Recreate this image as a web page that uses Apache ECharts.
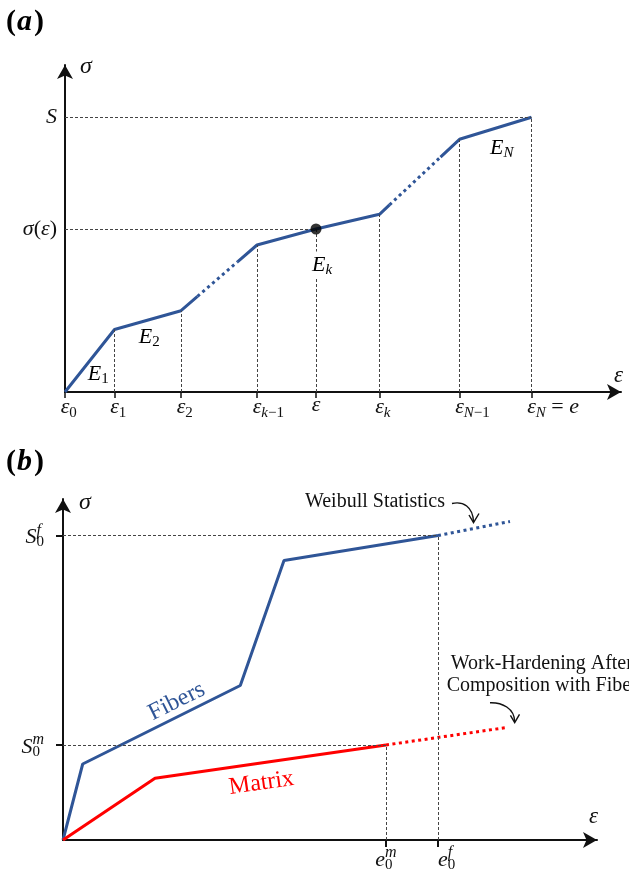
<!DOCTYPE html>
<html>
<head>
<meta charset="utf-8">
<script src="https://cdn.jsdelivr.net/npm/echarts@6/dist/echarts.min.js"></script>
<style>
  html, body { margin: 0; padding: 0; background: #ffffff; }
  #chart { width: 629px; height: 875px; }
</style>
</head>
<body>
<div id="chart"></div>
<script>
// ---------- Panel (a): piecewise-linear stress–strain law ----------
const strainA = [0, 4.95, 11.6, 19.2, 25.1, 31.45, 39.45, 46.65];
const stressA = [0, 6.25, 8.13, 14.7, 16.3, 17.77, 25.27, 27.47];
// tick label pieces for each strain knot: [style, text]
const strainLabelsA = [
  [['m', 'ε'], ['sn', '0']],
  [['m', 'ε'], ['sn', '1']],
  [['m', 'ε'], ['sn', '2']],
  [['m', 'ε'], ['si', 'k'], ['sn', '−1']],
  [['m', 'ε']],
  [['m', 'ε'], ['si', 'k']],
  [['m', 'ε'], ['si', 'N'], ['sn', '−1']],
  [['m', 'ε'], ['si', 'N'], ['mu', ' = '], ['m', 'e']]
];
const queryIndexA = 4;          // the evaluated point ε on segment k
// stretches of the curve drawn dotted (omitted intermediate segments)
const dottedA = [
  [[13.25, 9.56], [17.25, 13.01]],
  [[32.45, 18.71], [37.55, 23.49]]
];

// ---------- Panel (b): fibers and matrix ----------
const fiberStrain = [0, 1.97, 17.73, 22.1, 37.5];
const fiberStress = [0, 7.6, 15.45, 27.95, 30.45];
const fiberExtension = [44.7, 31.85];   // dotted continuation (Weibull statistics)
const matrixStrain = [0, 9.2, 32.3];
const matrixStress = [0, 6.17, 9.5];
const matrixExtension = [44.5, 11.27];  // dotted continuation (work-hardening)

const SERIF = '"Liberation Serif", "DejaVu Serif", serif';
const BLUE = '#2f5597', RED = '#ff0000', INK = '#111111', GUIDE = '#444444';
const X_MAX_A = 55.6, Y_MAX_A = 32.7, X_MAX_B = 53.4, Y_MAX_B = 34.1;

const chart = echarts.init(document.getElementById('chart'), null, { renderer: 'canvas' });

const ctx = document.createElement('canvas').getContext('2d');
function measure(text, s) {
  ctx.font = (s.fontStyle || 'normal') + ' ' + (s.fontWeight || 'normal') + ' ' + s.fontSize + 'px ' + SERIF;
  return ctx.measureText(text).width;
}

// rich styles shared by the math labels
const richA = {
  m:  { fontFamily: SERIF, fontSize: 22, fontStyle: 'italic', color: INK, align: 'left' },
  mu: { fontFamily: SERIF, fontSize: 22, color: INK, align: 'left' },
  si: { fontFamily: SERIF, fontSize: 15, fontStyle: 'italic', color: INK, padding: [12, 0, 0, 0], align: 'left' },
  sn: { fontFamily: SERIF, fontSize: 15, color: INK, padding: [12, 0, 0, 0], align: 'left' }
};
// each strain label is centred on its base symbol: a spacer balances the trailing scripts
strainLabelsA.forEach((parts, i) => {
  let trail = 0;
  parts.slice(1).forEach(([st, tx]) => { trail += measure(tx, richA[st]); });
  richA['sp' + i] = { width: trail, fontSize: 10, align: 'left' };
});
function strainLabelA(v) {
  const i = strainA.findIndex(a => Math.abs(a - v) < 1e-6);
  if (i < 0) return ' ';            // blank slot at the arrow end
  let s = '{sp' + i + '| }';
  strainLabelsA[i].forEach(([st, tx]) => { s += '{' + st + '|' + tx + '}'; });
  return s;
}

const richB = {
  b:    { fontFamily: SERIF, fontSize: 22, fontStyle: 'italic', color: INK, align: 'left' },
  sup:  { fontFamily: SERIF, fontSize: 16, fontStyle: 'italic', color: INK, padding: [0, 0, 14, 0], align: 'left' },
  supz: { fontFamily: SERIF, fontSize: 16, fontStyle: 'italic', color: INK, padding: [0, 0, 14, 0], width: 0, align: 'left' },
  sub:  { fontFamily: SERIF, fontSize: 15, color: INK, padding: [10, 0, 0, 0], align: 'left' },
  subz: { fontFamily: SERIF, fontSize: 15, color: INK, padding: [10, 0, 0, 0], width: 0, align: 'left' }
};
richB.spf = { width: measure('e', richB.b) + measure('0', richB.sub), fontSize: 10, align: 'left' };

const knotsA = strainA.map((x, i) => [x, stressA[i]]);
const solidA = [
  knotsA.slice(0, 3).concat([dottedA[0][0]]),
  [dottedA[0][1]].concat(knotsA.slice(3, 6), [dottedA[1][0]]),
  [dottedA[1][1]].concat(knotsA.slice(6))
];
const lastA = knotsA.length - 1;
const guidesA = [
  [{ coord: [0, stressA[lastA]] }, { coord: knotsA[lastA] }],
  [{ coord: [0, stressA[queryIndexA]] }, { coord: knotsA[queryIndexA] }]
];
for (let i = 1; i < knotsA.length; i++) guidesA.push([{ coord: [strainA[i], 0] }, { coord: knotsA[i] }]);

const fiberPts = fiberStrain.map((x, i) => [x, fiberStress[i]]);
const matrixPts = matrixStrain.map((x, i) => [x, matrixStress[i]]);
const fiberFail = fiberPts[fiberPts.length - 1];
const matrixFail = matrixPts[matrixPts.length - 1];
const guidesB = [
  [{ coord: [0, fiberFail[1]] }, { coord: fiberFail }],
  [{ coord: [fiberFail[0], 0] }, { coord: fiberFail }],
  [{ coord: [0, matrixFail[1]] }, { coord: matrixFail }],
  [{ coord: [matrixFail[0], 0] }, { coord: matrixFail }]
];

const axisLine = {
  show: true,
  symbol: ['none', 'arrow'],
  symbolSize: [12, 14],
  lineStyle: { color: INK, width: 2 }
};
const guideStyle = { color: GUIDE, width: 1, type: [3, 2] };
function guideSeries(xi, yi, data) {
  return {
    type: 'line', xAxisIndex: xi, yAxisIndex: yi, data: [], z: 1, silent: true,
    markLine: {
      silent: true, symbol: ['none', 'none'], animation: false,
      label: { show: false }, emphasis: { disabled: true },
      lineStyle: guideStyle, data: data
    }
  };
}
function curve(xi, yi, data, color, dotted) {
  return {
    type: 'line', xAxisIndex: xi, yAxisIndex: yi, data: data, z: 3,
    symbol: 'none', silent: true, animation: false,
    lineStyle: { color: color, width: 3, type: dotted ? [3, 3.5] : 'solid', cap: 'butt' }
  };
}

const option = {
  backgroundColor: '#ffffff',
  animation: false,
  grid: [
    { left: 65, top: 65, width: 556, height: 327, outerBoundsMode: 'none', containLabel: false },
    { left: 63, top: 499, width: 534, height: 341, outerBoundsMode: 'none', containLabel: false }
  ],
  xAxis: [
    {
      type: 'value', gridIndex: 0, min: 0, max: X_MAX_A,
      axisLine: axisLine,
      axisTick: { show: true, customValues: strainA, length: 6, lineStyle: { color: INK, width: 1.5 } },
      axisLabel: {
        show: true, customValues: strainA.concat([X_MAX_A]), margin: 2, align: 'center', verticalAlign: 'top',
        hideOverlap: false,
        formatter: v => strainLabelA(v), rich: richA
      },
      splitLine: { show: false }
    },
    {
      type: 'value', gridIndex: 1, min: 0, max: X_MAX_B,
      axisLine: axisLine,
      axisTick: { show: true, customValues: [matrixFail[0], fiberFail[0]], length: 7, lineStyle: { color: INK, width: 2 } },
      axisLabel: {
        show: true, customValues: [matrixFail[0], fiberFail[0]], margin: 5, align: 'center', verticalAlign: 'top',
        hideOverlap: false,
        formatter: v => Math.abs(v - matrixFail[0]) < 1e-9
          ? '{b|e}{subz|0}{sup|m}'
          : '{spf| }{b|e}{supz|f}{sub|0}',
        rich: richB
      },
      splitLine: { show: false }
    }
  ],
  yAxis: [
    {
      type: 'value', gridIndex: 0, min: 0, max: Y_MAX_A,
      axisLine: axisLine,
      axisTick: { show: false },
      axisLabel: {
        show: true, customValues: [stressA[queryIndexA], stressA[lastA]], margin: 8,
        hideOverlap: false,
        formatter: v => Math.abs(v - stressA[lastA]) < 1e-9 ? '{m|S}' : '{m|σ}{mu|(}{m|ε}{mu|)}',
        rich: richA
      },
      splitLine: { show: false },
      name: 'σ', nameLocation: 'end', nameGap: -2,
      nameTextStyle: { fontFamily: SERIF, fontSize: 24, fontStyle: 'italic', color: INK,
        align: 'left', verticalAlign: 'middle', padding: [0, 0, 0, 15] }
    },
    {
      type: 'value', gridIndex: 1, min: 0, max: Y_MAX_B,
      axisLine: axisLine,
      axisTick: { show: true, customValues: [matrixFail[1], fiberFail[1]], length: 7, lineStyle: { color: INK, width: 2 } },
      axisLabel: {
        show: true, customValues: [matrixFail[1], fiberFail[1]], margin: 19, padding: [4, 0, 0, 0],
        hideOverlap: false,
        formatter: v => Math.abs(v - fiberFail[1]) < 1e-9
          ? '{b|S}{supz|f}{sub|0}'
          : '{b|S}{subz|0}{sup|m}',
        rich: richB
      },
      splitLine: { show: false },
      name: 'σ', nameLocation: 'end', nameGap: -3.5,
      nameTextStyle: { fontFamily: SERIF, fontSize: 24, fontStyle: 'italic', color: INK,
        align: 'left', verticalAlign: 'middle', padding: [0, 0, 0, 16] }
    }
  ],
  series: [
    guideSeries(0, 0, guidesA),
    curve(0, 0, solidA[0], BLUE, false),
    curve(0, 0, solidA[1], BLUE, false),
    curve(0, 0, solidA[2], BLUE, false),
    curve(0, 0, dottedA[0], BLUE, true),
    curve(0, 0, dottedA[1], BLUE, true),
    {
      type: 'scatter', xAxisIndex: 0, yAxisIndex: 0, data: [knotsA[queryIndexA]],
      symbolSize: 11, itemStyle: { color: '#000000' }, z: 5, silent: true
    },
    guideSeries(1, 1, guidesB),
    curve(1, 1, fiberPts, BLUE, false),
    curve(1, 1, [fiberFail, fiberExtension], BLUE, true),
    curve(1, 1, matrixPts, RED, false),
    curve(1, 1, [matrixFail, matrixExtension], RED, true)
  ]
};
chart.setOption(option);

// ---------- annotations placed relative to the plotted geometry ----------
const px = (g, p) => chart.convertToPixel({ gridIndex: g }, p);
const mid = (p, q) => [(p[0] + q[0]) / 2, (p[1] + q[1]) / 2];

const eRich = {
  E: { fontFamily: SERIF, fontSize: 22, fontStyle: 'italic', color: INK },
  s: { fontFamily: SERIF, fontSize: 15, color: INK, padding: [10, 0, 0, 0] },
  si: { fontFamily: SERIF, fontSize: 15, fontStyle: 'italic', color: INK, padding: [10, 0, 0, 0] }
};
function modulusLabel(pos, dx, dy, text, bg) {
  return {
    type: 'text', x: pos[0] + dx, y: pos[1] + dy, z: 10, silent: true,
    style: {
      text: text, rich: eRich, align: 'left', verticalAlign: 'middle',
      backgroundColor: bg ? '#ffffff' : null, padding: bg ? [1, 1, 1, 1] : 0
    }
  };
}

function panelTag(y, letter) {
  return {
    type: 'text', x: 6, y: y, silent: true,
    style: {
      text: '{p|(}{a|' + letter + '}{p|)}', align: 'left', verticalAlign: 'middle',
      rich: {
        p: { fontFamily: SERIF, fontSize: 30, fontWeight: 'bold', color: INK },
        a: { fontFamily: SERIF, fontSize: 30, fontWeight: 'bold', fontStyle: 'italic', color: INK, padding: [0, 2, 0, 1] }
      }
    }
  };
}

// axis title drawn just above/right of an arrow tip
function axisTitle(pos, dx, dy, text) {
  return {
    type: 'text', x: pos[0] + dx, y: pos[1] + dy, silent: true, z: 10,
    style: { text: text, fontFamily: SERIF, fontSize: 23, fontStyle: 'italic', fill: INK,
             align: 'center', verticalAlign: 'middle' }
  };
}

function alongLabel(p, q, along, normal, text, color) {
  const a = px(1, p), b = px(1, q);
  const dx = b[0] - a[0], dy = b[1] - a[1];
  const len = Math.hypot(dx, dy);
  const u = [dx / len, dy / len];
  const n = [u[1], -u[0]];
  const m = [(a[0] + b[0]) / 2, (a[1] + b[1]) / 2];
  return {
    type: 'text', silent: true, z: 10,
    x: m[0] + along * u[0] + normal * n[0],
    y: m[1] + along * u[1] + normal * n[1],
    rotation: Math.atan2(-dy, dx),
    style: { text: text, fontFamily: SERIF, fontSize: 24, fill: color, align: 'center', verticalAlign: 'middle' }
  };
}

function curvedArrow(o, s, c1, c2, e, wingL, tip, wingR) {
  return [
    {
      type: 'bezierCurve', silent: true, z: 10,
      shape: { x1: o[0] + s[0], y1: o[1] + s[1], cpx1: o[0] + c1[0], cpy1: o[1] + c1[1],
               cpx2: o[0] + c2[0], cpy2: o[1] + c2[1], x2: o[0] + e[0], y2: o[1] + e[1] },
      style: { stroke: INK, lineWidth: 1.4, fill: null }
    },
    {
      type: 'polyline', silent: true, z: 10,
      shape: { points: [wingL, tip, wingR].map(p => [o[0] + p[0], o[1] + p[1]]) },
      style: { stroke: INK, lineWidth: 1.4, fill: null }
    }
  ];
}

const W = px(1, fiberExtension);
const M = px(1, matrixExtension);
const noteStyle = { fontFamily: SERIF, fontSize: 20, fill: INK, verticalAlign: 'middle' };

const graphics = [
  panelTag(22, 'a'),
  panelTag(462, 'b'),
  axisTitle(px(0, [X_MAX_A, 0]), -2.5, -16.5, 'ε'),
  axisTitle(px(1, [X_MAX_B, 0]), -3.5, -23.5, 'ε'),
  modulusLabel(px(0, mid(knotsA[0], knotsA[1])), -2, 13, '{E|E}{s|1}', false),
  modulusLabel(px(0, mid(knotsA[1], knotsA[2])), -9, 17, '{E|E}{s|2}', false),
  modulusLabel(px(0, knotsA[queryIndexA]), -5, 36, '{E|E}{si|k}', true),
  modulusLabel(px(0, mid(knotsA[6], knotsA[7])), -5.5, 20, '{E|E}{si|N}', false),
  alongLabel(fiberPts[1], fiberPts[2], 24, 14, 'Fibers', BLUE),
  alongLabel(matrixPts[1], matrixPts[2], -12, -20, 'Matrix', RED),
  { type: 'text', silent: true, z: 10, x: W[0] - 65, y: W[1] - 19.5,
    style: Object.assign({ text: 'Weibull Statistics', align: 'right' }, noteStyle) },
  { type: 'text', silent: true, z: 10, x: M[0] - 57.3, y: M[1] - 64,
    style: Object.assign({ text: 'Work-Hardening After', align: 'left' }, noteStyle) },
  { type: 'text', silent: true, z: 10, x: M[0] - 61.3, y: M[1] - 41.3,
    style: Object.assign({ text: 'Composition with Fibers', align: 'left' }, noteStyle) }
]
  .concat(curvedArrow(W, [-58, -18], [-47, -20.5], [-37, -15], [-36.5, 0.5],
                      [-41, -6.5], [-36.5, 1.2], [-31, -8]))
  .concat(curvedArrow(M, [-18, -24.6], [-6, -25], [6.5, -19], [6.7, -5.5],
                      [2.4, -12], [6.7, -4.6], [11.5, -13]));

chart.setOption({ graphic: graphics });
</script>
</body>
</html>
